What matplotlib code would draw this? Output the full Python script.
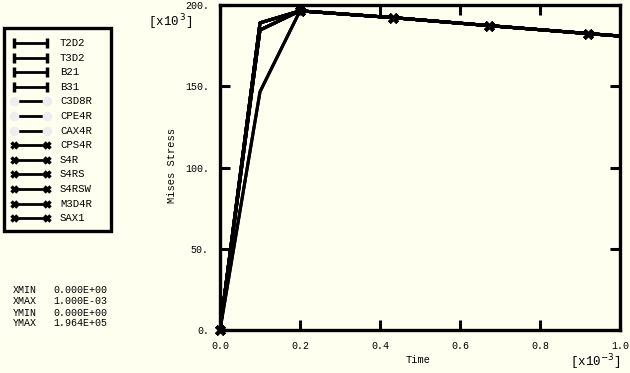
import matplotlib
matplotlib.use("Agg")
import matplotlib.pyplot as plt
from matplotlib.lines import Line2D
from matplotlib.patches import Rectangle

# Data (time in 1e-3 s, stress in 1e3)
t = [0.0, 0.1, 0.2, 0.433, 0.673, 0.921, 1.0]
curve_a = [0.0, 189.0, 196.4, 192.2, 187.3, 182.4, 180.9]
curve_b = [0.0, 184.6, 196.4, 192.2, 187.3, 182.4, 180.9]
curve_c = [0.0, 146.6, 196.4, 192.2, 187.3, 182.4, 180.9]

series_names = ["T2D2", "T3D2", "B21", "B31", "C3D8R", "CPE4R", "CAX4R",
                "CPS4R", "S4R", "S4RS", "S4RSW", "M3D4R", "SAX1"]
series_curve = ["c", "c", "a", "a", "b", "b", "b",
                "b", "a", "a", "a", "b", "a"]
series_style = ["plus"] * 4 + ["circ"] * 3 + ["x"] * 6

x_ticks = [0.0, 0.2, 0.4, 0.6, 0.8, 1.0]
x_ticklabels = ["0.0", "0.2", "0.4", "0.6", "0.8", "1.0"]
y_ticks = [0, 50, 100, 150, 200]
y_ticklabels = ["0.", "50.", "100.", "150.", "200."]

stats = [("XMIN", "0.000E+00"), ("XMAX", "1.000E-03"),
         ("YMIN", "0.000E+00"), ("YMAX", "1.964E+05")]

bg = "#FFFFF0"
W, H = 630, 373
fig = plt.figure(figsize=(W / 100, H / 100), dpi=100, facecolor=bg)
ax = fig.add_axes([220 / W, 1 - 330 / H, 400 / W, 325 / H], facecolor=bg)

font = "Liberation Mono"
fs = 7.2
curves = {"a": curve_a, "b": curve_b, "c": curve_c}
for name, c, st in zip(series_names, series_curve, series_style):
    if st == "x":
        ax.plot(t, curves[c], color="black", lw=2.2, marker="x", ms=6, mew=2.5,
                markevery=[0, 2, 3, 4, 5], clip_on=False, zorder=3)
    else:
        ax.plot(t, curves[c], color="black", lw=2.2, clip_on=False, zorder=3)

ax.set_xlim(0, 1.0)
ax.set_ylim(0, 200)
ax.set_xticks(x_ticks)
ax.set_xticklabels(x_ticklabels, fontfamily=font, fontsize=fs)
ax.set_yticks(y_ticks)
ax.set_yticklabels(y_ticklabels, fontfamily=font, fontsize=fs)
ax.tick_params(direction="in", length=7, width=2.2, top=True, right=True,
               pad=8, color="black")
for s in ax.spines.values():
    s.set_linewidth(2.4)

fig.text(418 / W, 1 - 360 / H, "Time", fontfamily=font, fontsize=7.5,
         ha="center", va="center")
fig.text(172 / W, 1 - 165 / H, "Mises Stress", fontfamily=font, fontsize=7.5,
         rotation=90, ha="center", va="center")
fig.text(148 / W, 1 - 22 / H, r"[x10$^{\,3}$]", fontfamily=font, fontsize=9,
         ha="left", va="center")
fig.text(570 / W, 1 - 362 / H, r"[x10$^{-3}$]", fontfamily=font, fontsize=9,
         ha="left", va="center")

# legend drawn manually in figure pixel space
fig.add_artist(Rectangle((4 / W, 1 - 231 / H), 107 / W, 203 / H,
                         transform=fig.transFigure, facecolor=bg,
                         edgecolor="black", lw=2.4))
for i, (name, st) in enumerate(zip(series_names, series_style)):
    y = 1 - (43 + i * 14.6) / H
    x0, x1 = 14 / W, 47 / W
    if st == "plus":
        kw = dict(marker="|", ms=7, mew=2.5)
    elif st == "circ":
        kw = dict(marker="o", ms=6, mfc="#EEEEEE", mec="#EEEEEE")
    else:
        kw = dict(marker="x", ms=5, mew=2.5)
    fig.add_artist(Line2D([x0, x1], [y, y], color="black", lw=2,
                          transform=fig.transFigure, **kw))
    fig.text(60 / W, y, name, fontfamily=font, fontsize=7.7, va="center")

for i, (k, v) in enumerate(stats):
    y = [290, 301, 313, 323][i]
    fig.text(13 / W, 1 - y / H, k, fontfamily=font, fontsize=7.2, va="center")
    fig.text(53 / W, 1 - y / H, v, fontfamily=font, fontsize=7.2, va="center")

fig.savefig("out.png", dpi=100, facecolor=bg)
